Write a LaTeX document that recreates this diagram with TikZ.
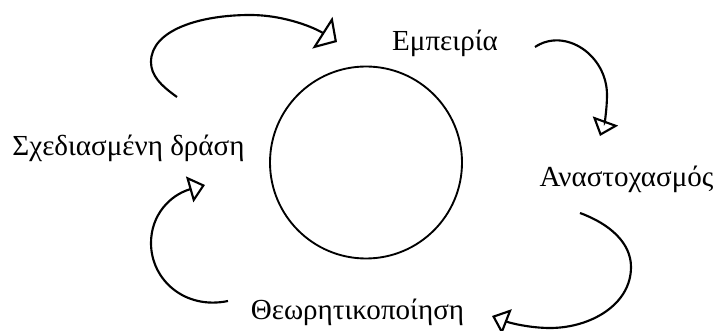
\documentclass[tikz,border=0pt]{standalone}
\usepackage{fontspec}
\setmainfont{Liberation Serif}
\usetikzlibrary{arrows.meta}

\begin{document}
\begin{tikzpicture}[x=0.75pt,y=-0.75pt,
        cyc/.style={line width=1.6pt,-{Triangle[open,length=12pt,width=20pt]}},
        lbl/.style={anchor=base,inner sep=0pt,font=\fontsize{21.8}{26}\selectfont}]
        \useasboundingbox (0,0) rectangle (714,331);
        % Circle
        \node[circle,draw,line width=1.4pt,minimum size=144pt,inner sep=0pt] (ring) at (366,162.5) {};
        % Stages
        \node[lbl] (exper) at (445,51) {Εμπειρία};
        \node[lbl] (refl) at (626.5,186.7) {Αναστοχασμός};
        \node[lbl] (theor) at (357.5,319.3) {Θεωρητικοποίηση};
        \node[lbl] (plan) at (128.5,156) {Σχεδιασμένη δράση};
        % Arrow ends
        \coordinate (s1) at (177,97);   \coordinate (t1) at (337,42);
        \coordinate (s2) at (535,47);   \coordinate (t2) at (600,136);
        \coordinate (s3) at (580,213);  \coordinate (t3) at (492,316);
        \coordinate (s4) at (228,301);  \coordinate (t4) at (205,185);
        % Arrows round the circle
        \draw[cyc,-{Triangle[open,length=13pt,width=28pt]}] (s1) .. controls (160,85) and (151,75) .. (151,62)
            .. controls (151,30) and (200,15) .. (250,15)
            .. controls (285,15) and (315,28) .. (t1);
        \draw[cyc] (s2) .. controls (565,27) and (607,55) .. (607,95)
            .. controls (607,110) and (604,125) .. (t2);
        \draw[cyc] (s3) .. controls (610,224) and (631,243) .. (631,267)
            .. controls (631,305) and (590,328) .. (550,328)
            .. controls (530,328) and (510,323) .. (t3);
        \draw[cyc] (s4) .. controls (185,310) and (151,280) .. (151,243)
            .. controls (151,215) and (170,195) .. (t4);
\end{tikzpicture}
\end{document}
